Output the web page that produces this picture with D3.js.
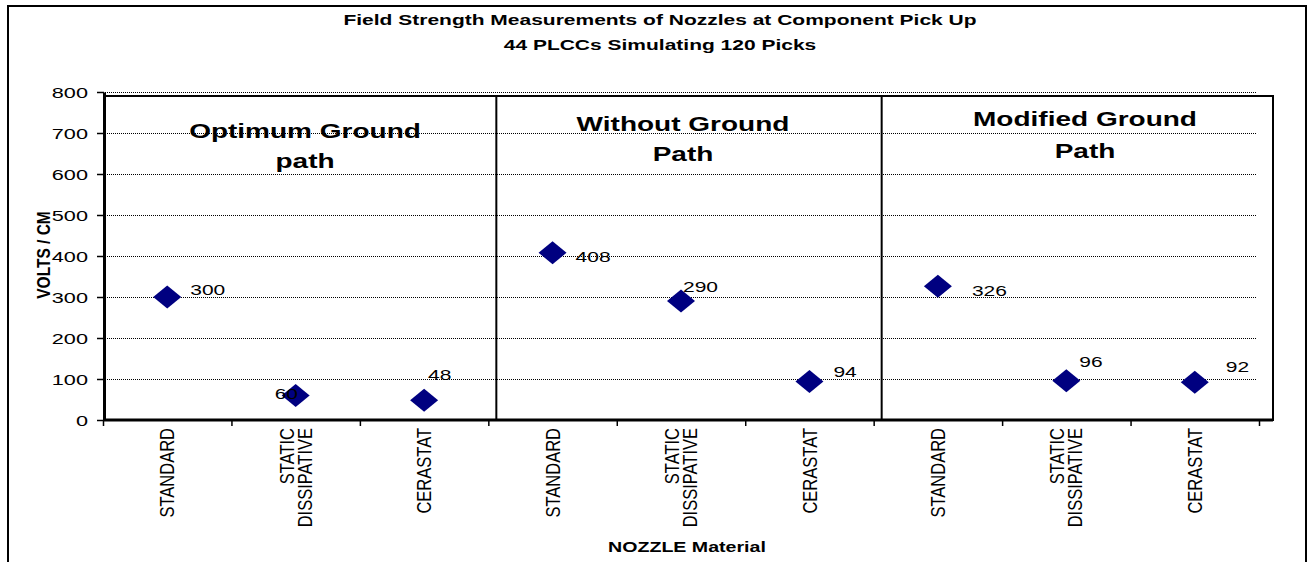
<!DOCTYPE html>
<html>
<head>
<meta charset="utf-8">
<script src="https://cdn.jsdelivr.net/npm/d3@7"></script>
<style>
  body { margin: 0; background: #fff; }
  svg { display: block; font-family: Arial, "Liberation Sans", sans-serif; }
</style>
</head>
<body>
<div id="chart"></div>
<script>
// Chart data
let panelTitles = [["Optimum Ground", "path"], ["Without Ground", "Path"], ["Modified Ground", "Path"]];
let materials = [["STANDARD"], ["STATIC", "DISSIPATIVE"], ["CERASTAT"]];
let fieldValues = [300, 60, 48, 408, 290, 94, 326, 96, 92];
let yTicks = [0, 100, 200, 300, 400, 500, 600, 700, 800];

// Build the 9 categories (panel x material)
let categories = [];
panelTitles.forEach((p, pi) => {
	materials.forEach((m, mi) => {
		categories.push({ id: pi + "-" + mi, panel: pi, lines: m, value: fieldValues[pi * 3 + mi] });
	});
});

let W = 1307, H = 562;
let sx = 1.4; // horizontal stretch of the original picture's text

let svg = d3.select("#chart").append("svg")
	.attr("width", W)
	.attr("height", H);

// Outer frame
svg.append("rect")
	.attr("x", 8).attr("y", 6)
	.attr("width", 1298).attr("height", 620)
	.attr("fill", "none").attr("stroke", "#000").attr("stroke-width", 2);

// Scales
let x = d3.scaleBand()
	.domain(categories.map(d => d.id))
	.range([103, 1259])
	.padding(0);

let xb = d3.scaleLinear().domain([0, categories.length]).range([103, 1259]);

let y = d3.scaleLinear()
	.domain([0, 800])
	.range([420, 92]);

// helper: horizontally stretched text
function stretchedText(parent, tx, ty, str, size, weight, anchor) {
	return parent.append("text")
		.attr("transform", "translate(" + tx + "," + ty + ") scale(" + sx + ",1)")
		.attr("text-anchor", anchor || "middle")
		.style("font-size", size + "px")
		.style("font-weight", weight || "normal")
		.attr("fill", "#000")
		.text(str);
}

// Title
stretchedText(svg, 660, 25, "Field Strength Measurements of Nozzles at Component Pick Up", 15, "bold");
stretchedText(svg, 660, 50, "44 PLCCs Simulating 120 Picks", 15, "bold");

// Dotted gridlines
svg.append("g")
	.attr("class", "grid")
	.attr("transform", "translate(97,0)")
	.call(d3.axisRight(y).tickValues(yTicks.slice(1)).tickSize(1160).tickFormat(""))
	.call(g => g.select(".domain").remove())
	.call(g => g.selectAll("line")
		.attr("stroke", "#000")
		.attr("stroke-width", 1)
		.attr("stroke-dasharray", "1,1"));

// Panel box and dividers
svg.append("rect")
	.attr("x", 104).attr("y", 96)
	.attr("width", 1273 - 104).attr("height", 420 - 96)
	.attr("fill", "none").attr("stroke", "#000").attr("stroke-width", 2);

svg.selectAll(".divider")
	.data([3, 6])
	.enter().append("line")
	.attr("class", "divider")
	.attr("x1", d => xb(d) + 8).attr("x2", d => xb(d) + 8)
	.attr("y1", 96).attr("y2", 420)
	.attr("stroke", "#000").attr("stroke-width", 2);

// Panel titles
let titleTop = [131, 124, 119];
let titleGap = [30, 30, 32];
let titleX = [305, 683, 1085];
panelTitles.forEach((lines, i) => {
	lines.forEach((s, li) => {
		stretchedText(svg, titleX[i], titleTop[i] + li * titleGap[i] + 7, s, 20, "bold");
	});
});

// Y axis
let yAxis = svg.append("g")
	.attr("class", "y-axis")
	.attr("transform", "translate(104,0)")
	.call(d3.axisLeft(y).tickValues(yTicks).tickSize(7).tickPadding(0).tickSizeOuter(0));

yAxis.select(".domain").attr("stroke-width", 3);
yAxis.selectAll(".tick line").attr("stroke", "#000").attr("stroke-width", 1.5);
yAxis.selectAll(".tick text")
	.attr("x", null)
	.attr("transform", "translate(-16,0) scale(" + sx + ",1)")
	.attr("dy", "0.36em")
	.style("font-size", "15.5px")
	.style("font-family", "Arial, 'Liberation Sans', sans-serif")
	.attr("fill", "#000");

// Y axis title
svg.append("text")
	.attr("transform", "translate(50,255) scale(1.2,1) rotate(-90)")
	.attr("text-anchor", "middle")
	.style("font-size", "15.5px")
	.style("font-weight", "bold")
	.text("VOLTS / CM");

// X axis with ticks at category boundaries
let xAxis = svg.append("g")
	.attr("class", "x-axis")
	.attr("transform", "translate(0,420)")
	.call(d3.axisBottom(xb).tickValues(d3.range(categories.length + 1)).tickSize(6).tickFormat("").tickSizeOuter(0));

xAxis.select(".domain").remove();
xAxis.selectAll(".tick line").attr("stroke", "#000").attr("stroke-width", 1.5);

svg.append("line")
	.attr("x1", 103).attr("x2", 1273)
	.attr("y1", 420).attr("y2", 420)
	.attr("stroke", "#000").attr("stroke-width", 3);

// Category labels, rotated
let catLabels = svg.selectAll(".cat-label")
	.data(categories)
	.enter().append("g")
	.attr("class", "cat-label")
	.attr("transform", d => "translate(" + (x(d.id) + x.bandwidth() / 2) + ",428) scale(1.2,1) rotate(-90)");

catLabels.each(function(d) {
	let g = d3.select(this);
	d.lines.forEach((s, li) => {
		g.append("text")
			.attr("text-anchor", "end")
			.attr("y", (li - (d.lines.length - 1) / 2) * 15)
			.attr("dy", "0.36em")
			.style("font-size", "16.5px")
			.text(s);
	});
});

// X axis title
stretchedText(svg, 687, 552, "NOZZLE Material", 14, "bold");

// Diamond markers
let diamond = "M0,-11.5L14,0L0,11.5L-14,0Z";
svg.selectAll(".point")
	.data(categories)
	.enter().append("path")
	.attr("class", "point")
	.attr("d", diamond)
	.attr("transform", d => "translate(" + (x(d.id) + x.bandwidth() / 2) + "," + y(d.value) + ")")
	.attr("fill", "#000080");

// Value labels (nudged like the original)
let labelNudge = [[23, -7], [-21, -1], [4, -25], [23, 4], [2, -14], [24, -9], [34, 5], [13, -19], [31, -15]];
categories.forEach((d, i) => {
	let cx = x(d.id) + x.bandwidth() / 2;
	stretchedText(svg, cx + labelNudge[i][0], y(d.value) + labelNudge[i][1] + 5, d.value, 15, "normal", "start");
});
</script>
</body>
</html>
